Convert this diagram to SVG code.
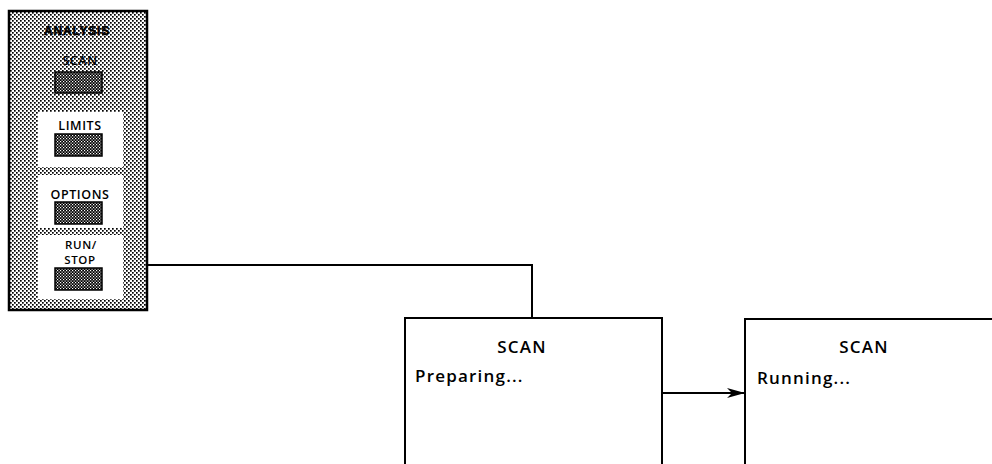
<svg xmlns="http://www.w3.org/2000/svg" width="992" height="464" viewBox="0 0 992 464">
<defs>
<pattern id="stip" width="4" height="4" patternUnits="userSpaceOnUse">
<rect width="4" height="4" fill="#ffffff"/>
<rect x="0" y="0" width="1.7" height="1.7" fill="#000"/>
<rect x="2" y="2" width="1.7" height="1.7" fill="#000"/>
</pattern>
<pattern id="dark" width="3" height="3" patternUnits="userSpaceOnUse">
<rect width="3" height="3" fill="#000"/>
<rect x="0" y="0" width="1.2" height="1.2" fill="#fff"/>
<rect x="1.5" y="1.5" width="1.2" height="1.2" fill="#fff"/>
</pattern>
<marker id="arr" viewBox="0 0 18 10" refX="18" refY="5" markerWidth="18" markerHeight="10" markerUnits="userSpaceOnUse" orient="auto">
<path d="M0,0 L18,5 L0,10 L5,5 Z" fill="#000"/>
</marker>
</defs>
<style>
.panel{fill:url(#stip);stroke:#000;stroke-width:2.5}
.wbox{fill:#fff;stroke:none}
.btn{fill:url(#dark);stroke:#000;stroke-width:1.5}
.lbl{font-family:"Open Sans","Noto Sans","Liberation Sans",sans-serif;font-size:12.5px;font-weight:600;text-anchor:middle;fill:#000;letter-spacing:0.6px}
.title{font-family:"Liberation Sans",Arial,sans-serif;font-size:12px;font-weight:bold;text-anchor:middle;fill:#000;letter-spacing:0.8px;stroke:#000;stroke-width:0.6}
.box{fill:#fff;stroke:#000;stroke-width:2}
.big{font-family:"Open Sans","Noto Sans","Liberation Sans",sans-serif;font-size:17px;font-weight:600;fill:#000;letter-spacing:1.2px}
.conn{fill:none;stroke:#000;stroke-width:2}
</style>
<rect width="992" height="464" fill="#fff"/>
<g id="analysis-panel">
<rect class="panel" x="9" y="11" width="138" height="299"/>
<text class="title" x="77" y="35">ANALYSIS</text>
</g>
<g id="scan-button">
<text class="lbl" x="80" y="65">SCAN</text>
<rect class="btn" x="55" y="72" width="47" height="21"/>
</g>
<g id="limits-button">
<rect class="wbox" x="38" y="112" width="85" height="55"/>
<text class="lbl" x="80" y="130">LIMITS</text>
<rect class="btn" x="55" y="134" width="47" height="22"/>
</g>
<g id="options-button">
<rect class="wbox" x="38" y="175" width="85" height="53"/>
<text class="lbl" x="80" y="199">OPTIONS</text>
<rect class="btn" x="55" y="202" width="47" height="22"/>
</g>
<g id="runstop-button">
<rect class="wbox" x="38" y="235" width="85" height="64"/>
<text class="lbl" x="81" y="249" style="font-size:11.5px">RUN/</text>
<text class="lbl" x="80" y="264" style="font-size:11.5px">STOP</text>
<rect class="btn" x="55" y="268" width="47" height="22"/>
</g>
<g id="connectors">
<polyline class="conn" points="147,265 532,265 532,318"/>
<line class="conn" x1="662" y1="393" x2="745" y2="393" marker-end="url(#arr)"/>
</g>
<g id="scan-preparing">
<path class="box" d="M405,466 L405,318 L662,318 L662,466"/>
<text class="big" x="522" y="353" text-anchor="middle">SCAN</text>
<text class="big" x="415" y="382">Preparing...</text>
</g>
<g id="scan-running">
<path class="box" d="M745,466 L745,319 L994,319"/>
<text class="big" x="864" y="353" text-anchor="middle">SCAN</text>
<text class="big" x="757" y="384">Running...</text>
</g>
</svg>
